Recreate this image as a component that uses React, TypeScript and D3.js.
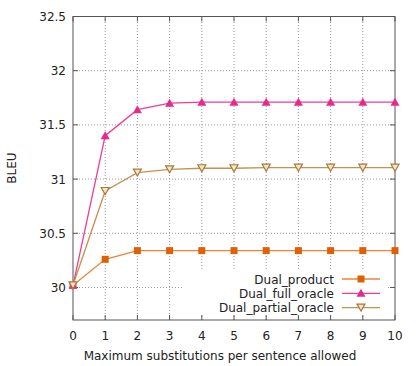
import React, { useEffect, useRef } from "react";
import * as d3 from "d3";

const xValues = [0, 1, 2, 3, 4, 5, 6, 7, 8, 9, 10];
const dualProduct = [30.02, 30.26, 30.34, 30.34, 30.34, 30.34, 30.34, 30.34, 30.34, 30.34, 30.34];
const dualFullOracle = [30.02, 31.4, 31.64, 31.7, 31.71, 31.71, 31.71, 31.71, 31.71, 31.71, 31.71];
const dualPartialOracle = [30.02, 30.89, 31.06, 31.09, 31.1, 31.1, 31.105, 31.105, 31.105, 31.105, 31.105];
const yTicks = [30, 30.5, 31, 31.5, 32, 32.5];
const seriesNames = ["Dual_product", "Dual_full_oracle", "Dual_partial_oracle"];

const App = () => {
  const svgRef = useRef<SVGSVGElement>(null);
  const width = 419;
  const height = 366;

  useEffect(() => {
    const root = d3.select(svgRef.current);
    root.selectAll("*").remove();
    const font = "DejaVu Sans, sans-serif";

    const x = d3.scaleLinear().domain([0, 10]).range([73, 395]);
    const y = d3.scaleLinear().domain([29.7, 32.5]).range([320, 16.5]);

    const series = [
      { name: seriesNames[0], values: dualProduct, line: "#ee8434", mark: "#e06000", shape: "square" },
      { name: seriesNames[1], values: dualFullOracle, line: "#ee3d95", mark: "#e8288a", shape: "up" },
      { name: seriesNames[2], values: dualPartialOracle, line: "#c2924e", mark: "#a8783a", shape: "down" },
    ];

    // grid
    const grid = root.append("g").attr("stroke", "#999").attr("stroke-width", 1).attr("stroke-dasharray", "1,2");
    xValues.slice(1, -1).forEach((v) => {
      grid.append("line").attr("x1", x(v)).attr("x2", x(v)).attr("y1", 320).attr("y2", 16.5);
    });
    yTicks.slice(0, -1).forEach((v) => {
      grid.append("line").attr("x1", 73).attr("x2", 395).attr("y1", y(v)).attr("y2", y(v));
    });

    // legend background hides grid
    root.append("rect").attr("x", 184).attr("y", 271).attr("width", 204).attr("height", 44).attr("fill", "white");

    // frame
    root.append("rect").attr("x", 73).attr("y", 16.5).attr("width", 322).attr("height", 303.5)
      .attr("fill", "none").attr("stroke", "#555").attr("stroke-width", 1);

    // ticks
    const ticks = root.append("g").attr("stroke", "#555");
    xValues.forEach((v) => {
      ticks.append("line").attr("x1", x(v)).attr("x2", x(v)).attr("y1", 320).attr("y2", 315);
      ticks.append("line").attr("x1", x(v)).attr("x2", x(v)).attr("y1", 16.5).attr("y2", 21.5);
    });
    yTicks.forEach((v) => {
      ticks.append("line").attr("x1", 73).attr("x2", 78).attr("y1", y(v)).attr("y2", y(v));
      ticks.append("line").attr("x1", 395).attr("x2", 390).attr("y1", y(v)).attr("y2", y(v));
    });

    const labels = root.append("g").attr("font-family", font).attr("font-size", 12).attr("fill", "#222");
    xValues.forEach((v) => {
      labels.append("text").attr("x", x(v)).attr("y", 340).attr("text-anchor", "middle").text(v);
    });
    yTicks.forEach((v) => {
      labels.append("text").attr("x", 66).attr("y", y(v) + 4.5).attr("text-anchor", "end").text(v);
    });
    labels.append("text").attr("x", 220).attr("y", 360).attr("text-anchor", "middle")
      .text("Maximum substitutions per sentence allowed");
    labels.append("text").attr("transform", "translate(16,168) rotate(-90)").attr("text-anchor", "middle").text("BLEU");

    const drawMarker = (g, shape, color, cx, cy) => {
      if (shape === "square") {
        g.append("rect").attr("x", cx - 3.5).attr("y", cy - 3.5).attr("width", 7).attr("height", 7).attr("fill", color);
      } else if (shape === "up") {
        g.append("path").attr("d", `M${cx},${cy - 4.5}L${cx + 4.5},${cy + 3.5}L${cx - 4.5},${cy + 3.5}Z`).attr("fill", color);
      } else {
        g.append("path").attr("d", `M${cx - 4},${cy - 3.5}L${cx + 4},${cy - 3.5}L${cx},${cy + 3.5}Z`)
          .attr("fill", "#f3e6c8").attr("stroke", color).attr("stroke-width", 1.2);
      }
    };

    const line = d3.line<number>().x((d, i) => x(xValues[i])).y((d) => y(d));
    series.forEach((s) => {
      const g = root.append("g");
      g.append("path").datum(s.values).attr("d", line).attr("fill", "none").attr("stroke", s.line).attr("stroke-width", 1.3);
      s.values.forEach((v, i) => drawMarker(g, s.shape, s.mark, x(xValues[i]), y(v)));
    });

    // legend
    series.forEach((s, i) => {
      const ly = 279 + i * 14.3;
      const g = root.append("g");
      g.append("text").attr("x", 334).attr("y", ly + 4.5).attr("text-anchor", "end")
        .attr("font-family", font).attr("font-size", 12).attr("fill", "#222").text(s.name);
      g.append("line").attr("x1", 342).attr("x2", 380).attr("y1", ly).attr("y2", ly).attr("stroke", s.line).attr("stroke-width", 1.3);
      drawMarker(g, s.shape, s.mark, 361, ly);
    });
  }, []);

  return <svg ref={svgRef} width={width} height={height} style={{ position: "absolute", left: 0, top: 0 }}></svg>;
};

export default App;
